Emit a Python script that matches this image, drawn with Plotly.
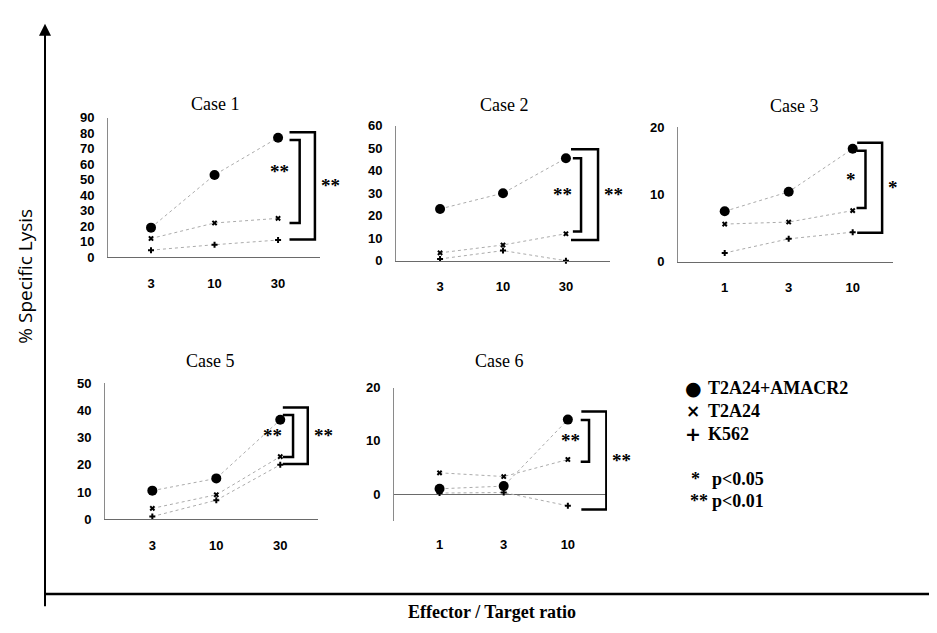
import plotly.graph_objects as go

# ---------------- data ----------------
series_names = ["T2A24+AMACR2", "T2A24", "K562"]
legend_glyphs = ["●", "×", "+"]
sig_stars = ["*", "**"]
sig_texts = ["p<0.05", "p<0.01"]
case_titles = ["Case 1", "Case 2", "Case 3", "Case 5", "Case 6"]
x_title = "Effector / Target ratio"
y_title = "% Specific Lysis"

case1_ratios = ["3", "10", "30"]
case1_amacr2 = [19, 53, 77]
case1_t2a24 = [12, 22, 25]
case1_k562 = [4.5, 8, 11]
case1_brackets = [[75.5, 22, "**"], [80.5, 11.3, "**"]]

case2_ratios = ["3", "10", "30"]
case2_amacr2 = [23, 30, 45.5]
case2_t2a24 = [3.5, 7, 12]
case2_k562 = [0.8, 4.5, 0]
case2_brackets = [[45.5, 13, "**"], [49.5, 9.2, "**"]]

case3_ratios = ["1", "3", "10"]
case3_amacr2 = [7.5, 10.4, 16.8]
case3_t2a24 = [5.6, 5.9, 7.6]
case3_k562 = [1.3, 3.4, 4.4]
case3_brackets = [[16.5, 8.0, "*"], [17.7, 4.3, "*"]]

case5_ratios = ["3", "10", "30"]
case5_amacr2 = [10.5, 15, 36.5]
case5_t2a24 = [4, 9, 23]
case5_k562 = [1, 7, 20]
case5_brackets = [[38.3, 22.9, "**"], [41.0, 20.3, "**"]]

case6_ratios = ["1", "3", "10"]
case6_amacr2 = [1, 1.5, 14]
case6_t2a24 = [4, 3.3, 6.5]
case6_k562 = [0.2, 0.3, -2.2]
case6_brackets = [[13.9, 6.1, "**"], [15.5, -2.9, "**"]]

# ---------------- layout / style ----------------
W, H = 937, 633


def fx(px):
    return px / W


def fy(py):
    return 1 - py / H


panels = [
    dict(ratios=case1_ratios, vals=[case1_amacr2, case1_t2a24, case1_k562], br=case1_brackets,
         left=100, right=312, ybot=248, ytop=105, yr=[0, 90], dt=10, xr=[-0.677, 2.66],
         bx=[(2.18, 2.34), (2.18, 2.58)], title_xy=(207, 91), zero=False, inner_label_dy=10),
    dict(ratios=case2_ratios, vals=[case2_amacr2, case2_t2a24, case2_k562], br=case2_brackets,
         left=388, right=602, ybot=251.7, ytop=113.3, yr=[0, 60], dt=10, xr=[-0.70, 2.70],
         bx=[(2.11, 2.24), (2.08, 2.51)], title_xy=(497, 92), zero=False, inner_label_dy=0),
    dict(ratios=case3_ratios, vals=[case3_amacr2, case3_t2a24, case3_k562], br=case3_brackets,
         left=670, right=885, ybot=252.7, ytop=115, yr=[0, 20], dt=10, xr=[-0.73, 2.63],
         bx=[(2.06, 2.20), (2.07, 2.46)], title_xy=(786, 93), zero=False, inner_label_dy=0),
    dict(ratios=case5_ratios, vals=[case5_amacr2, case5_t2a24, case5_k562], br=case5_brackets,
         left=97, right=310, ybot=516.5, ytop=377, yr=[0, 50], dt=10, xr=[-0.74, 2.59],
         bx=[(2.04, 2.20), (2.04, 2.43)], title_xy=(202, 354), zero=False, inner_label_dy=0),
    dict(ratios=case6_ratios, vals=[case6_amacr2, case6_t2a24, case6_k562], br=case6_brackets,
         left=386, right=599, ybot=518, ytop=381.7, yr=[-5, 20], dt=10, xr=[-0.71, 2.61],
         bx=[(2.20, 2.33), (2.21, 2.60)], title_xy=(491, 354), zero=True, inner_label_dy=0),
]

marker_styles = [
    dict(symbol="circle", size=10, color="black"),
    dict(symbol="x", size=5, color="black"),
    dict(symbol="cross", size=5, color="black"),
]

tick_font = dict(family="Liberation Sans", size=13, color="black", weight="bold")
star_font = dict(family="Liberation Serif", size=19, color="black", weight="bold")
serif = "Liberation Serif"

fig = go.Figure()
layout = dict(
    width=W, height=H, margin=dict(l=0, r=0, t=0, b=0),
    paper_bgcolor="white", plot_bgcolor="white", showlegend=False,
)
shapes = []
annotations = []


def paper_text(px, py, text, font, xanchor="center", yanchor="middle", **kw):
    annotations.append(dict(x=fx(px), y=fy(py), xref="paper", yref="paper", text=text,
                            showarrow=False, xanchor=xanchor, yanchor=yanchor, font=font, **kw))


for i, p in enumerate(panels):
    s = "" if i == 0 else str(i + 1)
    xa, ya = "x" + s, "y" + s
    idx = list(range(len(p["ratios"])))
    for k, vals in enumerate(p["vals"]):
        fig.add_trace(go.Scatter(
            x=idx, y=vals, mode="lines+markers", name=series_names[k],
            line=dict(color="#ababab", width=1, dash="dot"),
            marker=marker_styles[k], cliponaxis=False,
            xaxis=xa, yaxis=ya,
        ))
    layout["xaxis" + s] = dict(
        domain=[fx(p["left"]), fx(p["right"])], anchor=ya, range=p["xr"],
        tickvals=idx, ticktext=p["ratios"], showgrid=False, zeroline=False,
        showline=not p["zero"], linecolor="#6a6a6a", linewidth=1, ticks="",
        tickfont=tick_font, ticklabelstandoff=14, fixedrange=True,
    )
    layout["yaxis" + s] = dict(
        domain=[fy(p["ybot"]), fy(p["ytop"])], anchor=xa, range=p["yr"],
        dtick=p["dt"], tick0=0, showgrid=False,
        zeroline=p["zero"], zerolinecolor="#6a6a6a", zerolinewidth=1,
        showline=True, linecolor="#8a8a8a", linewidth=1, ticks="",
        tickfont=tick_font, ticklabelstandoff=10, fixedrange=True,
    )
    # significance brackets
    for (top, bot, lab), (xa0, xv), side in zip(p["br"], p["bx"], ["inner", "outer"]):
        shapes.append(dict(
            type="path", xref=xa, yref=ya,
            path=f"M {xa0},{top} L {xv},{top} L {xv},{bot} L {xa0},{bot}",
            line=dict(color="black", width=2.5),
        ))
        mid = (top + bot) / 2
        if side == "inner":
            annotations.append(dict(x=xa0, y=mid, xref=xa, yref=ya, text=lab, showarrow=False,
                                    xanchor="right", yanchor="middle", xshift=1,
                                    yshift=p["inner_label_dy"], font=star_font))
        else:
            annotations.append(dict(x=xv, y=mid, xref=xa, yref=ya, text=lab, showarrow=False,
                                    xanchor="left", yanchor="middle", xshift=4, font=star_font))
    # panel title
    tx, ty = p["title_xy"]
    paper_text(tx, ty, case_titles[i], dict(family=serif, size=18, color="black"))

# outer axes
shapes.append(dict(type="line", xref="paper", yref="paper", x0=fx(37), x1=fx(932), y0=fy(593), y1=fy(593),
                   line=dict(color="black", width=2.5)))
annotations.append(dict(x=fx(37), y=fy(9), xref="paper", yref="paper", ax=0, ay=584, axref="pixel",
                        ayref="pixel", text="", showarrow=True, arrowhead=2, arrowsize=1.2,
                        arrowwidth=2, arrowcolor="black"))
paper_text(17, 268, y_title, dict(family="Open Sans", size=19, color="black"), textangle=-90)
paper_text(484, 612, x_title, dict(family=serif, size=18, color="black", weight="bold"))

# legend text
leg_rows = [382, 406, 429]
glyph_sizes = [19, 17, 19]
for g, gs, nm, ry in zip(legend_glyphs, glyph_sizes, series_names, leg_rows):
    paper_text(685, ry, g, dict(family="DejaVu Sans", size=gs, color="black", weight="bold"))
    paper_text(698, ry, nm, dict(family=serif, size=18, color="black", weight="bold"), xanchor="left")
for st, tx, ry, sx in zip(sig_stars, sig_texts, [475, 498], [687, 691]):
    paper_text(sx, ry, st, dict(family=serif, size=18, color="black", weight="bold"))
    paper_text(702, ry, tx, dict(family=serif, size=18, color="black", weight="bold"), xanchor="left")

layout["shapes"] = shapes
layout["annotations"] = annotations
fig.update_layout(**layout)
fig.write_html("out.html")
